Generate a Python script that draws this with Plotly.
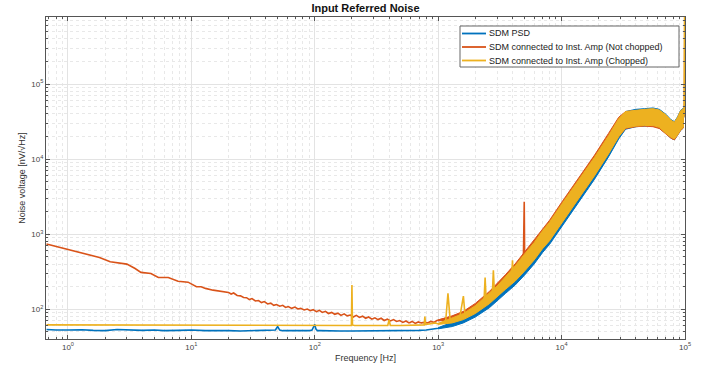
import plotly.graph_objects as go

# ---------------- data ----------------
names = ["SDM PSD",
         "SDM connected to Inst. Amp (Not chopped)",
         "SDM connected to Inst. Amp (Chopped)"]
colors = ["#0072BD", "#D95319", "#EDB120"]

# SDM PSD (blue) trace
blue_f = [0.67, 0.8, 1.0, 1.3, 1.6, 2.0, 2.5, 3.0, 4, 5, 6, 8, 10, 13, 16, 20, 25, 30, 35,
          40, 45, 48, 50, 52, 55, 60, 70, 80, 90, 95, 98, 100, 102, 105, 110, 130, 160,
          200, 250, 300, 400, 500, 600, 700, 800, 900, 1000,
          1300, 1600, 2000, 2600, 3000, 3500, 4200, 5000, 6000, 7000, 8000, 10000,
          13500, 18500, 24000, 29000, 33000, 40000, 47000, 55000, 62000, 70000,
          77000, 82000, 87000, 92000, 97000, 99000, 99700]
blue_v = [54, 53, 53, 53.5, 52.5, 52, 54, 53, 52.5, 53, 52, 52.5, 53, 52, 52.5, 52, 51.5, 52, 51.5,
          52, 52, 53, 59, 53, 52, 52, 52, 51.5, 52, 53, 60, 63, 55, 52, 52, 51.5, 51.5,
          51.5, 51.5, 51.5, 51.5, 52, 52, 52.5, 53, 54, 56,
          63, 71, 87, 123, 153, 200, 270, 380, 560, 800, 1030, 1750,
          3500, 7500, 15000, 26000, 33000, 36000, 37000, 38000, 36000, 30000,
          25000, 23000, 27000, 33000, 36000, 40000, 60000]

# Not chopped (orange) trace
orange_f = [0.67, 0.8, 1.0, 1.2, 1.5, 1.8, 2.2, 2.6, 3.0, 3.5, 3.9, 4.7, 5.4, 6.5, 7.8, 9.4,
            11, 12, 13, 15, 17, 18.5,
            20, 21, 22, 23.5, 25, 26.5, 28, 29.5, 31, 33, 35, 37, 39, 41.5, 44, 46.5, 49, 52,
            55, 58, 61, 65, 69, 73, 77, 82, 87, 92, 97, 103, 109, 115, 122, 129, 137, 145,
            154, 163, 173, 183, 194, 205, 217, 230, 244, 258, 273, 290, 307, 325, 345, 365,
            387, 410, 435, 460, 488, 517, 548, 580, 615, 652, 690, 731, 775, 821, 870, 922,
            977, 1300, 1600, 2000, 2600, 3000, 3500, 4200, 4900, 4980, 5020, 5100, 6000,
            7000, 8000, 10000, 13500, 18500, 24000, 29000, 33000, 40000, 47000, 55000,
            62000, 70000, 77000, 82000, 87000, 92000, 97000, 98800, 99600]
orange_v = [740, 690, 630, 580, 530, 490, 430, 410, 400, 350, 310, 300, 265, 265, 236, 230,
            200, 200, 190, 180, 176, 170,
            168, 160, 165, 153, 151, 144, 143, 135, 139, 129, 131, 123, 127, 118, 121, 113, 116, 110,
            113, 106, 109, 103, 107, 101, 103, 98, 101, 96, 99, 93, 97, 91, 94, 88, 91, 86,
            89, 83, 87, 82, 84, 79, 83, 78, 81, 76, 79, 74, 77, 73, 76, 71,
            74, 70, 73, 69, 71, 67, 70, 66, 69, 65, 68, 66, 67, 66, 69, 67,
            71, 80, 90, 108, 148, 182, 240, 330, 440, 2700, 460, 480, 680,
            950, 1250, 2050, 4100, 8500, 16500, 27000, 33000, 35000, 36000, 36000,
            34000, 28000, 24000, 23000, 27000, 33000, 36000, 40000, 900000]

# Chopped (yellow) trace
yellow_f = [0.67, 1, 2, 5, 10, 20, 50, 100, 150, 190, 198, 200, 202, 210, 300, 390, 400, 410,
            500, 600, 700, 770, 780, 790, 850, 950, 1000, 1150, 1200, 1250, 1500, 1600,
            1650, 2000, 2350, 2400, 2450, 2750, 2800, 2850, 3500, 3950, 4000, 4050, 5000,
            6000, 7000, 8000, 10000, 13500, 18500, 24000, 29000, 33000, 40000, 47000,
            55000, 62000, 70000, 77000, 82000, 87000, 92000, 97000, 98500, 99300]
yellow_v = [62, 62, 61.5, 61, 61, 61, 61, 61, 61, 61, 61, 210, 62, 61, 61, 61, 72, 61,
            61, 61.5, 62, 62, 80, 63, 64, 66, 64, 70, 163, 72, 80, 150,
            84, 100, 125, 265, 130, 165, 330, 175, 225, 290, 450, 300, 420,
            600, 850, 1100, 1900, 3800, 8000, 15500, 26000, 33000, 36000, 37000,
            38000, 36000, 30000, 25000, 23000, 27000, 33000, 36000, 40000, 900000]

# Noise band envelopes (upper / lower) of the three spectra above 1 kHz
band_f = [1000, 1300, 1600, 2000, 2600, 3000, 3500, 4200, 5000, 6000, 7000, 8000, 10000,
          13500, 18500, 24000, 29000, 33000, 40000, 47000, 55000, 62000, 70000, 77000,
          82000, 87000, 92000, 97000]
blue_lo = [55, 59, 66, 79, 105, 129, 162, 210, 284, 402, 568, 735, 1270, 2550, 5400, 10700,
           18500, 25000, 27000, 27500, 28000, 26000, 22000, 19000, 18000, 20500, 24000, 26000]
blue_hi = [57, 67, 77, 97, 142, 180, 238, 332, 478, 688, 975, 1280, 2200, 4500, 9600,
           19000, 33000, 43000, 46000, 47000, 48000, 46000, 39500, 33500, 31500, 36500, 44500, 47500]
orange_lo = [70, 73, 80, 93, 123, 151, 191, 246, 336, 470, 660, 850, 1450, 2900, 6100, 12000,
             20000, 25500, 27000, 27500, 27000, 25500, 21500, 19000, 18000, 20500, 24000, 26000]
orange_hi = [72, 82, 94, 120, 173, 218, 288, 402, 578, 828, 1180, 1540, 2650, 5350, 11300,
             22000, 36000, 43000, 44000, 45000, 46000, 44000, 38000, 32000, 30000, 35000, 43000, 46000]
yellow_lo = [63, 66, 73, 88, 119, 147, 184, 237, 321, 455, 640, 820, 1420, 2850, 6000, 11700,
             19800, 26000, 27500, 28000, 28000, 26500, 22000, 19500, 18500, 21000, 24500, 26500]
yellow_hi = [65, 76, 88, 112, 162, 204, 270, 378, 543, 778, 1110, 1450, 2500, 5000, 10600,
             20500, 34500, 43000, 45000, 46000, 47000, 45000, 39000, 33000, 31000, 36000, 44000, 47000]

x_tickvals = [1, 10, 100, 1000, 10000, 100000]
x_ticktext = ["10<sup>0</sup>", "10<sup>1</sup>", "10<sup>2</sup>", "10<sup>3</sup>",
              "10<sup>4</sup>", "10<sup>5</sup>"]
y_tickvals = [100, 1000, 10000, 100000]
y_ticktext = ["10<sup>2</sup>", "10<sup>3</sup>", "10<sup>4</sup>", "10<sup>5</sup>"]

FONT = "Liberation Sans, Arial, sans-serif"
W, H = 715, 370
ML, MR, MT, MB = 46, 30, 17, 31
PW, PH = W - ML - MR, H - MT - MB


def px(x):
    return (x - ML) / PW


def py(y):
    return 1 - (y - MT) / PH


# ---------------- figure ----------------
fig = go.Figure()
series = [
    (blue_f, blue_v, blue_lo, blue_hi),
    (orange_f, orange_v, orange_lo, orange_hi),
    (yellow_f, yellow_v, yellow_lo, yellow_hi),
]
for (f, v, lo, hi), name, col in zip(series, names, colors):
    fig.add_trace(go.Scatter(x=f, y=v, mode="lines", name=name, showlegend=False,
                             line=dict(color=col, width=1.6)))
    fig.add_trace(go.Scatter(x=band_f + band_f[::-1], y=hi + lo[::-1], mode="lines",
                             fill="toself", fillcolor=col, showlegend=False,
                             line=dict(color=col, width=1), hoverinfo="skip"))

axis_common = dict(
    type="log", showline=True, linecolor="#555555", linewidth=1, mirror="allticks",
    ticks="inside", ticklen=4, tickcolor="#555555", automargin=False,
    showgrid=True, gridcolor="#e3e3e3", gridwidth=1, zeroline=False,
    tickfont=dict(family=FONT, size=8, color="#444444"),
    minor=dict(ticks="inside", ticklen=2, tickcolor="#555555", dtick="D1",
               showgrid=True, gridcolor="#e8e8e8", griddash="dot"),
)

fig.update_xaxes(**axis_common, range=[-0.178, 5.0], tickmode="array",
                 tickvals=x_tickvals, ticktext=x_ticktext,
                 title=dict(text="Frequency [Hz]", standoff=4,
                            font=dict(family=FONT, size=9, color="#333333")))
fig.update_yaxes(**axis_common, range=[1.605, 5.892], tickmode="array",
                 tickvals=y_tickvals, ticktext=y_ticktext,
                 title=dict(text="Noise voltage [nV/\u221aHz]", standoff=4,
                            font=dict(family=FONT, size=9, color="#333333")))

# legend box drawn in the upper right corner of the axes (MATLAB style)
shapes = [dict(type="rect", xref="paper", yref="paper",
               x0=px(460), x1=px(679), y0=py(67), y1=py(26),
               line=dict(color="#666666", width=1), fillcolor="white", layer="above")]
annotations = []
row_y = [33.5, 47, 60.5]
for name, col, yy in zip(names, colors, row_y):
    shapes.append(dict(type="line", xref="paper", yref="paper",
                       x0=px(462), x1=px(486), y0=py(yy), y1=py(yy),
                       line=dict(color=col, width=1.8), layer="above"))
    annotations.append(dict(text=name, xref="paper", yref="paper", x=px(487), y=py(yy),
                            xanchor="left", yanchor="middle", showarrow=False,
                            font=dict(family=FONT, size=9, color="#222222")))

fig.update_layout(
    width=W, height=H,
    margin=dict(l=ML, r=MR, t=MT, b=MB, autoexpand=False),
    paper_bgcolor="white", plot_bgcolor="white",
    title=dict(text="<b>Input Referred Noise</b>", x=0.5, xref="paper", xanchor="center",
               y=1 - 8.5 / H, yref="container", yanchor="middle",
               font=dict(family=FONT, size=11, color="#111111")),
    shapes=shapes, annotations=annotations,
    showlegend=False,
)

fig.write_html("out.html", config={"displayModeBar": False},
               post_script="document.body.style.margin='0';document.body.style.overflow='hidden';")
